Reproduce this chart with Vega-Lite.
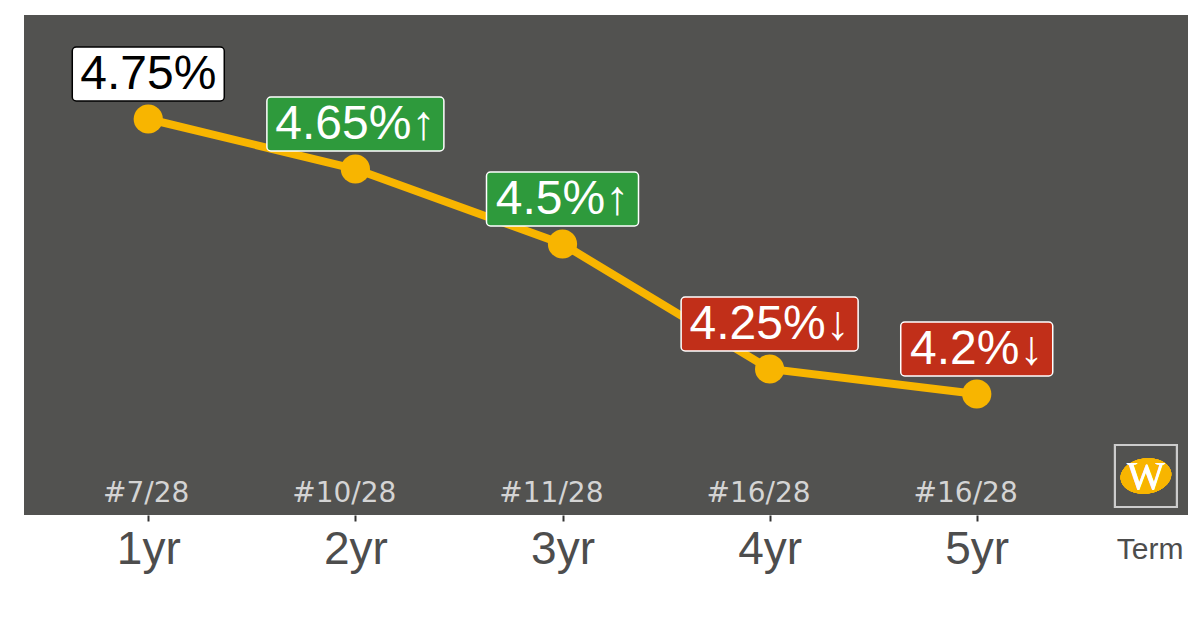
{
  "$schema": "https://vega.github.io/schema/vega-lite/v6.json",
  "width": 1164,
  "height": 500,
  "autosize": {"type": "none"},
  "padding": {"left": 24, "top": 15, "right": 12, "bottom": 113},
  "background": "white",
  "config": {
    "view": {"fill": "#525250", "stroke": null},
    "font": "Liberation Sans"
  },
  "data": {
    "values": [
      {"term": 1, "rate": 4.75, "label": "4.75%", "change": "none", "rank": "#7/28"},
      {"term": 2, "rate": 4.65, "label": "4.65%↑", "change": "up", "rank": "#10/28"},
      {"term": 3, "rate": 4.5, "label": "4.5%↑", "change": "up", "rank": "#11/28"},
      {"term": 4, "rate": 4.25, "label": "4.25%↓", "change": "down", "rank": "#16/28"},
      {"term": 5, "rate": 4.2, "label": "4.2%↓", "change": "down", "rank": "#16/28"}
    ]
  },
  "encoding": {
    "x": {
      "field": "term",
      "type": "quantitative",
      "scale": {"domain": [0.4, 6.02], "nice": false, "zero": false},
      "axis": {
        "values": [1, 2, 3, 4, 5],
        "labelExpr": "datum.value + 'yr'",
        "grid": false,
        "domain": false,
        "ticks": true,
        "tickSize": 6,
        "tickWidth": 2,
        "tickColor": "#333333",
        "labelFontSize": 46,
        "labelColor": "#4d4d4d",
        "labelFont": "Liberation Sans",
        "labelPadding": 6,
        "title": "Term",
        "titleFontSize": 30,
        "titleFontWeight": "normal",
        "titleColor": "#4d4d4d",
        "titleFont": "Liberation Sans",
        "titleAnchor": "end",
        "titleAlign": "right",
        "titleX": 1159,
        "titleY": 43,
        "titleBaseline": "alphabetic"
      }
    },
    "y": {
      "field": "rate",
      "type": "quantitative",
      "scale": {"domain": [3.958, 4.958], "nice": false, "zero": false},
      "axis": null
    }
  },
  "layer": [
    {
      "mark": {"type": "line", "color": "#F8B500", "strokeWidth": 8}
    },
    {
      "mark": {"type": "circle", "color": "#F8B500", "size": 855, "opacity": 1}
    },
    {
      "transform": [{"filter": "length(datum.label) == 6"}],
      "mark": {"type": "rect", "width": 177, "height": 54, "yOffset": -45, "cornerRadius": 4, "strokeWidth": 1.5},
      "encoding": {
        "fill": {"field": "change", "type": "nominal", "scale": {"domain": ["none", "up", "down"], "range": ["#ffffff", "#2E9A3C", "#C12F19"]}, "legend": null},
        "stroke": {"field": "change", "type": "nominal", "scale": {"domain": ["none", "up", "down"], "range": ["#000000", "#ffffff", "#ffffff"]}, "legend": null}
      }
    },
    {
      "transform": [{"filter": "length(datum.label) == 5"}],
      "mark": {"type": "rect", "width": 152, "height": 54, "yOffset": -45, "cornerRadius": 4, "strokeWidth": 1.5},
      "encoding": {
        "fill": {"field": "change", "type": "nominal", "scale": {"domain": ["none", "up", "down"], "range": ["#ffffff", "#2E9A3C", "#C12F19"]}, "legend": null},
        "stroke": {"field": "change", "type": "nominal", "scale": {"domain": ["none", "up", "down"], "range": ["#000000", "#ffffff", "#ffffff"]}, "legend": null}
      }
    },
    {
      "mark": {"type": "text", "fontSize": 48, "font": "Liberation Sans", "baseline": "middle", "align": "center", "yOffset": -44},
      "encoding": {
        "text": {"field": "label"},
        "color": {"field": "change", "type": "nominal", "scale": {"domain": ["none", "up", "down"], "range": ["#000000", "#ffffff", "#ffffff"]}, "legend": null}
      }
    },
    {
      "mark": {"type": "text", "fontSize": 28, "font": "DejaVu Sans", "baseline": "middle", "align": "right", "dx": 41, "color": "#d4d4d4"},
      "encoding": {
        "text": {"field": "rank"},
        "y": {"datum": 4.0, "type": "quantitative"}
      }
    },
    {
      "mark": {"type": "point", "shape": "square", "size": 3844, "filled": false, "stroke": "#cccccc", "strokeWidth": 2, "opacity": 1},
      "encoding": {
        "x": {"datum": 5.817, "type": "quantitative"},
        "y": {"datum": 4.036, "type": "quantitative"}
      }
    },
    {
      "mark": {"type": "point", "shape": "M -1 0 A 1 0.69 0 1 0 1 0 A 1 0.69 0 1 0 -1 0 Z", "size": 2601, "filled": true, "color": "#F8B500", "opacity": 1, "angle": -8},
      "encoding": {
        "x": {"datum": 5.817, "type": "quantitative"},
        "y": {"datum": 4.036, "type": "quantitative"}
      }
    },
    {
      "mark": {"type": "text", "text": "W", "font": "Liberation Serif", "fontSize": 40, "color": "#ffffff", "baseline": "middle", "align": "center"},
      "encoding": {
        "x": {"datum": 5.817, "type": "quantitative"},
        "y": {"datum": 4.034, "type": "quantitative"}
      }
    }
  ]
}
